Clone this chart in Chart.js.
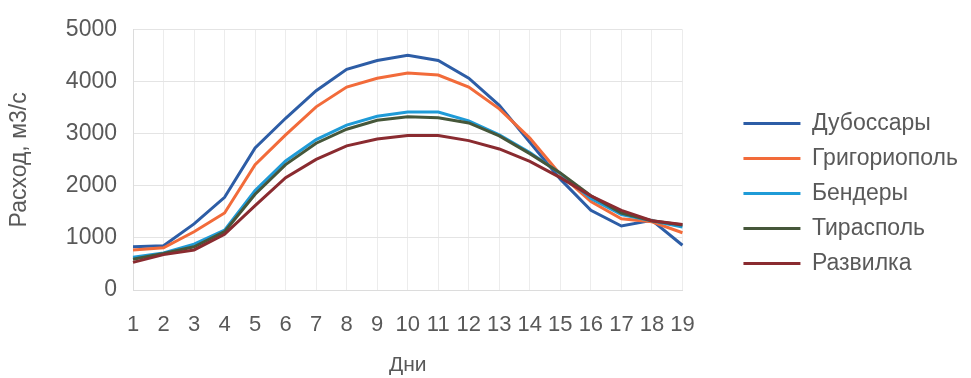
<!DOCTYPE html>
<html>
<head>
<meta charset="utf-8">
<script src="https://cdn.jsdelivr.net/npm/chart.js@4.4.1/dist/chart.umd.min.js"></script>
<style>
  html, body { margin: 0; padding: 0; background: #fff; }
  #wrap { width: 971px; height: 378px; }
</style>
</head>
<body>
<div id="wrap"><canvas id="flowChart" width="971" height="378"></canvas></div>
<script>
// Days along the x axis
const days = ["1","2","3","4","5","6","7","8","9","10","11","12","13","14","15","16","17","18","19"];

// Discharge per station, m3/s
const dubossary   = [830, 850, 1270, 1780, 2730, 3300, 3830, 4240, 4410, 4510, 4410, 4070, 3550, 2840, 2130, 1530, 1230, 1340, 860];
const grigoriopol = [770, 810, 1120, 1480, 2410, 2980, 3520, 3900, 4070, 4170, 4130, 3900, 3480, 2920, 2220, 1700, 1370, 1310, 1100];
const bendery     = [630, 710, 880, 1150, 1910, 2480, 2890, 3170, 3340, 3420, 3420, 3250, 2980, 2640, 2240, 1760, 1450, 1330, 1210];
const tiraspol    = [590, 700, 830, 1120, 1840, 2410, 2820, 3090, 3260, 3330, 3310, 3210, 2960, 2620, 2250, 1810, 1480, 1330, 1250];
const razvilka    = [530, 680, 770, 1070, 1620, 2160, 2510, 2770, 2900, 2970, 2970, 2870, 2710, 2470, 2160, 1810, 1530, 1330, 1260];

const seriesNames  = ["Дубоссары", "Григориополь", "Бендеры", "Тирасполь", "Развилка"];
const seriesValues = [dubossary, grigoriopol, bendery, tiraspol, razvilka];
const seriesColors = ["#2d5da6", "#f26b3a", "#1f9bd7", "#46573a", "#8a2b30"];

const yTicks = [0, 1000, 2000, 3000, 4000, 5000];

const FONT = "'Liberation Sans', Arial, sans-serif";
const TEXT = "#595959";

// leave a gap between the plot and the legend
const FIT_GAP = 47;      // extra width reserved for the legend
const DRAW_SHIFT = 49;   // how far the legend items are moved right
const LEGEND_DY = -8;
const legendShift = {
    id: "legendShift",
    beforeLayout(chart) {
        const lg = chart.legend;
        if (!lg || lg._shifted) return;
        lg._shifted = true;
        const fit = lg.fit.bind(lg);
        lg.fit = function () { fit(); this.width += FIT_GAP; };
        const draw = lg.draw.bind(lg);
        lg.draw = function () {
            const l = this.left, r = this.right, t = this.top, b = this.bottom;
            this.left += DRAW_SHIFT; this.right = Math.max(r, this.left + 10);
            this.top += LEGEND_DY; this.bottom += LEGEND_DY;
            draw();
            this.left = l; this.right = r; this.top = t; this.bottom = b;
        };
    }
};

const datasets = seriesNames.map((name, i) => ({
    label: name,
    data: seriesValues[i],
    borderColor: seriesColors[i],
    backgroundColor: seriesColors[i],
    borderWidth: 3,
    pointRadius: 0,
    tension: 0,
    order: seriesNames.length - i   // last series drawn on top, like the original
}));

const ctx = document.getElementById("flowChart").getContext("2d");

new Chart(ctx, {
    type: "line",
    data: { labels: days, datasets: datasets },
    plugins: [legendShift],
    options: {
        responsive: false,
        animation: false,
        layout: { padding: { top: 25, right: 5, left: 0, bottom: 0 } },
        plugins: {
            tooltip: { enabled: false },
            legend: {
                position: "right",
                labels: {
                    color: TEXT,
                    font: { family: FONT, size: 23 },
                    usePointStyle: true,
                    pointStyle: "line",
                    pointStyleWidth: 57,
                    boxHeight: 23,
                    padding: 12,
                    sort: (a, b) => a.datasetIndex - b.datasetIndex
                }
            }
        },
        scales: {
            x: {
                offset: false,
                grid: { color: "#ececec", drawTicks: false },
                border: { color: "#dcdcdc" },
                ticks: { color: TEXT, font: { family: FONT, size: 22 }, padding: 22, maxRotation: 0, autoSkip: false },
                title: { display: true, text: "Дни", color: TEXT, font: { family: FONT, size: 21 }, padding: { top: 0, bottom: 0 } },
                afterFit(scale) { scale.height = 88; }
            },
            y: {
                min: 0,
                max: 5000,
                afterBuildTicks(scale) { scale.ticks = yTicks.map(v => ({ value: v })); },
                grid: { color: "#e4e4e4", drawTicks: false },
                border: { color: "#dcdcdc" },
                ticks: { color: TEXT, font: { family: FONT, size: 23 }, padding: 16, callback: v => String(v) },
                title: { display: true, text: "Расход, м3/с", color: TEXT, font: { family: FONT, size: 23 }, padding: { top: 6, bottom: 0 } },
                afterFit(scale) { scale.width = 133; }
            }
        }
    }
});
</script>
</body>
</html>
